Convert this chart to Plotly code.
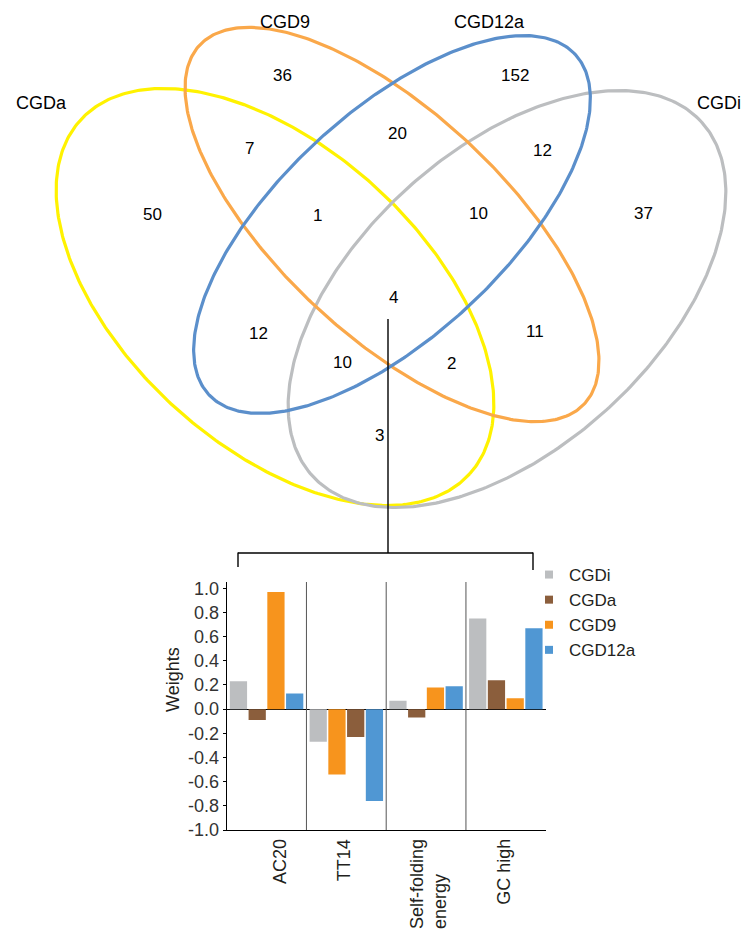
import numpy as np
import plotly.graph_objects as go

# ---------------- data ----------------
venn_sets = ["CGDa", "CGD9", "CGD12a", "CGDi"]
venn_regions = ["CGDa", "CGD9", "CGD12a", "CGDi",
                "CGDa&CGD9", "CGDa&CGD9&CGD12a", "CGD9&CGD12a", "CGD12a&CGDi",
                "CGD9&CGD12a&CGDi", "all", "CGDa&CGD12a", "CGDa&CGD12a&CGDi",
                "CGDa&CGD9&CGDi", "CGD9&CGDi", "CGDa&CGDi"]
venn_counts = [50, 36, 152, 37, 7, 1, 20, 12, 10, 4, 12, 10, 2, 11, 3]

features = ["AC20", "TT14", "Self-folding<br>energy", "GC high"]
series = ["CGDi", "CGDa", "CGD9", "CGD12a"]
w_CGDi = [0.23, -0.27, 0.07, 0.75]
w_CGDa = [-0.09, -0.23, -0.07, 0.24]
w_CGD9 = [0.97, -0.54, 0.18, 0.09]
w_CGD12a = [0.13, -0.76, 0.19, 0.67]
# order in which the series' bars appear within each feature group
bar_order = [["CGDi", "CGDa", "CGD9", "CGD12a"],
             ["CGDi", "CGD9", "CGDa", "CGD12a"],
             ["CGDi", "CGDa", "CGD9", "CGD12a"],
             ["CGDi", "CGDa", "CGD9", "CGD12a"]]
y_ticks = [-1.0, -0.8, -0.6, -0.4, -0.2, 0.0, 0.2, 0.4, 0.6, 0.8, 1.0]

# ---------------- style / layout ----------------
W, H = 745, 931
FONT = "Liberation Sans, Arial, sans-serif"
TXT = "#231f20"
bar_colors = {"CGDi": "#bcbec0", "CGDa": "#8b5e3c", "CGD9": "#f7941d", "CGD12a": "#5097d3"}
ell_colors = {"CGDa": "#fff200", "CGD9": "#faa84a", "CGD12a": "#5b8fcb", "CGDi": "#bcbec0"}
# ellipse geometry in pixel space (cx, cy, semi-major, semi-minor, angle deg)
ell_geom = {"CGDa": (275, 297, 263, 149, 42.3),
            "CGD9": (392, 224.5, 263, 112, 43.0),
            "CGD12a": (392, 224.5, 250, 112, -42.9),
            "CGDi": (507, 299, 263, 149, -42.3)}
set_label_pos = {"CGDa": (41, 103), "CGD9": (285, 22), "CGD12a": (489, 22), "CGDi": (719, 103)}
region_pos = [(152, 214), (282, 75), (515, 75), (643, 213), (249, 148), (317, 215),
              (397, 133), (542, 150), (478, 213), (393, 297), (258, 333), (342, 362),
              (451, 363), (535, 331), (379, 435)]
series_data = {"CGDi": w_CGDi, "CGDa": w_CGDa, "CGD9": w_CGD9, "CGD12a": w_CGD12a}

fig = go.Figure()

# ---- bars: one trace per position slot within group ----
for k in range(len(series)):
    ys = [series_data[bar_order[f][k]][f] for f in range(len(features))]
    cs = [bar_colors[bar_order[f][k]] for f in range(len(features))]
    fig.add_trace(go.Bar(x=features, y=ys, marker=dict(color=cs, line=dict(width=0)),
                         showlegend=False, name=f"slot{k}", xaxis="x", yaxis="y"))
# legend entries
for s in series:
    fig.add_trace(go.Scatter(x=[None], y=[None], mode="markers", name=s,
                             marker=dict(symbol="square", size=8, color=bar_colors[s]),
                             xaxis="x", yaxis="y"))

# ---- venn ellipses ----
t = np.linspace(0, 2 * np.pi, 400)
for s in ["CGDa", "CGDi", "CGD9", "CGD12a"]:
    cx, cy, a, b, ang = ell_geom[s]
    th = np.deg2rad(ang)
    ex = cx + a * np.cos(t) * np.cos(th) - b * np.sin(t) * np.sin(th)
    ey = cy + a * np.cos(t) * np.sin(th) + b * np.sin(t) * np.cos(th)
    fig.add_trace(go.Scatter(x=ex, y=ey, mode="lines", line=dict(color=ell_colors[s], width=3.2),
                             hoverinfo="skip", showlegend=False, xaxis="x2", yaxis="y2"))

ann = []
for s in venn_sets:
    x, y = set_label_pos[s]
    ann.append(dict(x=x, y=y, xref="x2", yref="y2", text=s, showarrow=False,
                    xanchor="center", yanchor="middle",
                    font=dict(size=18, color="#000", family=FONT)))
for c, (x, y) in zip(venn_counts, region_pos):
    ann.append(dict(x=x, y=y, xref="x2", yref="y2", text=str(c), showarrow=False,
                    xanchor="center", yanchor="middle",
                    font=dict(size=17, color="#000", family=FONT)))

# bar plot area
x0d, x1d = 226.7 / W, 545.7 / W
y0d, y1d = (H - 830) / H, (H - 582) / H

label_xshift = [13, -2, 2, -2]
for i, f in enumerate(features):
    ann.append(dict(x=f, xref="x", y=y0d - 7 / H, yref="paper", text=f, showarrow=False,
                    textangle=-90, align="left", xanchor="center", yanchor="top",
                    xshift=label_xshift[i], font=dict(size=18, color=TXT, family=FONT)))
ann.append(dict(x=173 / W, y=(H - 680) / H, xref="paper", yref="paper", text="Weights",
                xanchor="center", yanchor="middle",
                showarrow=False, textangle=-90, font=dict(size=18, color=TXT, family=FONT)))

shapes = []
# connector and bracket
for (xa, ya, xb, yb) in [(388, 319, 388, 553), (238, 553, 533, 553), (238, 552.5, 238, 567), (533, 552.5, 533, 570)]:
    shapes.append(dict(type="line", xref="x2", yref="y2", x0=xa, y0=ya, x1=xb, y1=yb,
                       line=dict(color="#000", width=1.4)))
# group separators
for i in range(len(features) - 1):
    shapes.append(dict(type="line", xref="x", yref="y domain", x0=i + 0.5, x1=i + 0.5, y0=0, y1=1,
                       line=dict(color="#555", width=1)))

fig.update_layout(
    width=W, height=H, margin=dict(l=0, r=0, t=0, b=0, pad=0, autoexpand=False),
    paper_bgcolor="white", plot_bgcolor="rgba(0,0,0,0)",
    barmode="group", bargap=0.06, bargroupgap=0.08,
    font=dict(family=FONT, color=TXT, size=18),
    xaxis=dict(domain=[x0d, x1d], anchor="y", range=[-0.5, 3.5], showline=True, linecolor="#000",
               linewidth=1, showticklabels=False, ticks="", showgrid=False, zeroline=False,
               fixedrange=True, automargin=False),
    yaxis=dict(domain=[y0d, y1d], anchor="x", range=[-1.0, 1.052], tickvals=y_ticks,
               ticktext=[f"{v:.1f}" for v in y_ticks], ticks="outside", ticklen=3,
               tickcolor="#000", showline=True, linecolor="#000", linewidth=1,
               zeroline=True, zerolinecolor="#000", zerolinewidth=1, showgrid=False,
               tickfont=dict(size=18, color="#333", family=FONT), automargin=False),
    xaxis2=dict(domain=[0, 1], anchor="y2", range=[0, W], visible=False, fixedrange=True,
                automargin=False),
    yaxis2=dict(domain=[0, 1], anchor="x2", range=[H, 0], visible=False, fixedrange=True,
                automargin=False),
    legend=dict(x=529 / W, y=(H - 557) / H, xanchor="left", yanchor="top",
                font=dict(size=17, color=TXT, family=FONT), bgcolor="rgba(0,0,0,0)",
                tracegroupgap=0, borderwidth=0),
    annotations=ann, shapes=shapes,
)

page_js = ("var s=document.createElement('style');"
           "s.textContent='html,body{margin:0;padding:0;overflow:hidden;}';"
           "document.head.appendChild(s);")
fig.write_html("out.html", config={"displayModeBar": False}, post_script=page_js)
